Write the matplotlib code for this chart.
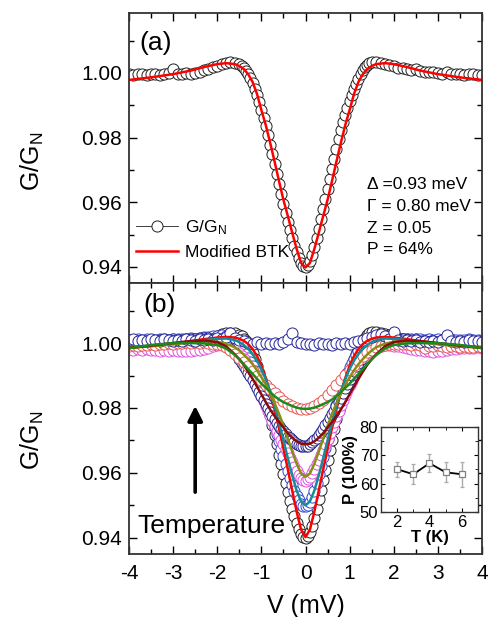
import numpy as np
import matplotlib
matplotlib.use("Agg")
import matplotlib.pyplot as plt
from matplotlib.ticker import MultipleLocator

plt.rcParams['font.family'] = 'Liberation Sans'
plt.rcParams['mathtext.fontset'] = 'custom'
plt.rcParams['mathtext.rm'] = 'Liberation Sans'
plt.rcParams['mathtext.default'] = 'regular'

# bias voltage (mV): 0.1 steps outside, 0.05 steps across the gap
V_dense = [-4.0, -3.9, -3.8, -3.7, -3.6, -3.5, -3.4, -3.3, -3.2, -3.1,
           -3.0, -2.9, -2.8, -2.7, -2.6, -2.5, -2.4, -2.3, -2.2, -2.1,
           -2.0, -1.9, -1.8, -1.7, -1.6,
           -1.5, -1.45, -1.4, -1.35, -1.3, -1.25, -1.2, -1.15, -1.1, -1.05,
           -1.0, -0.95, -0.9, -0.85, -0.8, -0.75, -0.7, -0.65, -0.6, -0.55,
           -0.5, -0.45, -0.4, -0.35, -0.3, -0.25, -0.2, -0.15, -0.1, -0.05,
           0.0,
           0.05, 0.1, 0.15, 0.2, 0.25, 0.3, 0.35, 0.4, 0.45, 0.5,
           0.55, 0.6, 0.65, 0.7, 0.75, 0.8, 0.85, 0.9, 0.95, 1.0,
           1.05, 1.1, 1.15, 1.2, 1.25, 1.3, 1.35, 1.4, 1.45, 1.5,
           1.6, 1.7, 1.8, 1.9, 2.0, 2.1, 2.2, 2.3, 2.4, 2.5,
           2.6, 2.7, 2.8, 2.9, 3.0, 3.1, 3.2, 3.3, 3.4, 3.5,
           3.6, 3.7, 3.8, 3.9, 4.0]

# measured G/GN, lowest temperature (panel a, black in b)
g_black = [0.9996, 0.9994, 0.9997, 0.9995, 0.9993, 0.9996, 0.9995, 0.9994, 0.9997, 0.9998,
           1.0012, 0.9996, 0.9995, 0.9998, 0.9997, 1.0000, 1.0004, 1.0008, 1.0012, 1.0018,
           1.0022, 1.0027, 1.0031, 1.0032, 1.0031,
           1.0026, 1.0021, 1.0014, 1.0006, 0.9995, 0.9983, 0.9968, 0.9950, 0.9930, 0.9909,
           0.9885, 0.9861, 0.9835, 0.9808, 0.9778, 0.9749, 0.9718, 0.9688, 0.9655, 0.9626,
           0.9595, 0.9568, 0.9540, 0.9514, 0.9490, 0.9466, 0.9445, 0.9426, 0.9412, 0.9403,
           0.9400,
           0.9406, 0.9418, 0.9437, 0.9462, 0.9489, 0.9518, 0.9548, 0.9578, 0.9609, 0.9640,
           0.9671, 0.9702, 0.9734, 0.9765, 0.9795, 0.9822, 0.9847, 0.9870, 0.9892, 0.9912,
           0.9932, 0.9950, 0.9967, 0.9982, 0.9996, 1.0008, 1.0017, 1.0025, 1.0030, 1.0033,
           1.0034, 1.0031, 1.0027, 1.0024, 1.0020, 1.0016, 1.0014, 1.0012, 1.0010, 1.0011,
           1.0007, 1.0004, 1.0003, 1.0002, 0.9999, 0.9997, 1.0004, 0.9996, 0.9995, 0.9997,
           0.9994, 0.9996, 0.9995, 0.9994, 0.9993]
g_blue = [1.0010, 1.0008, 1.0011, 1.0009, 1.0012, 1.0010, 1.0008, 1.0011, 1.0013, 1.0010,
          1.0012, 1.0014, 1.0011, 1.0013, 1.0015, 1.0013, 1.0016, 1.0018, 1.0019, 1.0021,
          1.0023, 1.0024, 1.0022, 1.0018, 1.0008,
          0.9995, 0.9987, 0.9978, 0.9967, 0.9955, 0.9942, 0.9928, 0.9913, 0.9897, 0.9880,
          0.9862, 0.9844, 0.9825, 0.9805, 0.9785, 0.9764, 0.9742, 0.9720, 0.9698, 0.9675,
          0.9652, 0.9628, 0.9605, 0.9583, 0.9562, 0.9544, 0.9528, 0.9515, 0.9505, 0.9499,
          0.9497,
          0.9502, 0.9510, 0.9526, 0.9545, 0.9569, 0.9595, 0.9622, 0.9650, 0.9678, 0.9705,
          0.9732, 0.9758, 0.9784, 0.9808, 0.9831, 0.9852, 0.9872, 0.9890, 0.9908, 0.9925,
          0.9939, 0.9952, 0.9964, 0.9975, 0.9984, 0.9992, 0.9999, 1.0005, 1.0010, 1.0014,
          1.0019, 1.0021, 1.0020, 1.0018, 1.0016, 1.0015, 1.0013, 1.0014, 1.0012, 1.0011,
          1.0013, 1.0010, 1.0011, 1.0009, 1.0012, 1.0010, 1.0008, 1.0011, 1.0009, 1.0010,
          1.0008, 1.0011, 1.0009, 1.0010, 1.0008]
g_magenta = [0.9982, 0.9980, 0.9983, 0.9979, 0.9981, 0.9978, 0.9980, 0.9977, 0.9979, 0.9976,
             0.9978, 0.9975, 0.9977, 0.9974, 0.9976, 0.9978, 0.9980, 0.9983, 0.9986, 0.9990,
             0.9993, 0.9996, 0.9997, 0.9994, 0.9985,
             0.9970, 0.9961, 0.9950, 0.9938, 0.9925, 0.9912, 0.9898, 0.9884, 0.9868, 0.9852,
             0.9836, 0.9820, 0.9805, 0.9790, 0.9775, 0.9760, 0.9745, 0.9730, 0.9716, 0.9702,
             0.9688, 0.9674, 0.9660, 0.9646, 0.9632, 0.9618, 0.9605, 0.9594, 0.9585, 0.9579,
             0.9576,
             0.9580, 0.9588, 0.9599, 0.9612, 0.9626, 0.9640, 0.9656, 0.9672, 0.9688, 0.9705,
             0.9722, 0.9740, 0.9758, 0.9775, 0.9792, 0.9808, 0.9824, 0.9840, 0.9855, 0.9870,
             0.9884, 0.9898, 0.9910, 0.9922, 0.9934, 0.9945, 0.9954, 0.9962, 0.9969, 0.9975,
             0.9984, 0.9990, 0.9993, 0.9994, 0.9992, 0.9990, 0.9987, 0.9985, 0.9982, 0.9980,
             0.9978, 0.9976, 0.9974, 0.9973, 0.9975, 0.9977, 0.9979, 0.9981, 0.9983, 0.9985,
             0.9984, 0.9986, 0.9985, 0.9987, 0.9986]
g_navy = [1.0005, 1.0002, 1.0006, 1.0003, 1.0007, 1.0004, 1.0006, 1.0008, 1.0005, 1.0009,
          1.0007, 1.0010, 1.0008, 1.0011, 1.0013, 1.0012, 1.0015, 1.0017, 1.0016, 1.0014,
          1.0010, 1.0003, 0.9994, 0.9982, 0.9968,
          0.9950, 0.9940, 0.9930, 0.9919, 0.9908, 0.9897, 0.9885, 0.9874, 0.9862, 0.9850,
          0.9838, 0.9825, 0.9812, 0.9800, 0.9788, 0.9776, 0.9765, 0.9755, 0.9745, 0.9736,
          0.9728, 0.9720, 0.9712, 0.9706, 0.9700, 0.9695, 0.9690, 0.9687, 0.9684, 0.9683,
          0.9682,
          0.9684, 0.9688, 0.9694, 0.9700, 0.9708, 0.9716, 0.9725, 0.9735, 0.9746, 0.9757,
          0.9768, 0.9780, 0.9792, 0.9805, 0.9818, 0.9832, 0.9846, 0.9860, 0.9874, 0.9888,
          0.9902, 0.9915, 0.9928, 0.9940, 0.9951, 0.9962, 0.9971, 0.9980, 0.9988, 0.9995,
          1.0007, 1.0016, 1.0020, 1.0019, 1.0016, 1.0013, 1.0011, 1.0009, 1.0008, 1.0006,
          1.0005, 1.0006, 1.0004, 1.0005, 1.0003, 1.0004, 1.0002, 1.0004, 1.0001, 1.0003,
          1.0000, 1.0002, 0.9999, 1.0001, 0.9998]

# shallow / flat curves on a plain 0.1 mV grid
V = [-4.0, -3.9, -3.8, -3.7, -3.6, -3.5, -3.4, -3.3, -3.2, -3.1,
     -3.0, -2.9, -2.8, -2.7, -2.6, -2.5, -2.4, -2.3, -2.2, -2.1,
     -2.0, -1.9, -1.8, -1.7, -1.6, -1.5, -1.4, -1.3, -1.2, -1.1,
     -1.0, -0.9, -0.8, -0.7, -0.6, -0.5, -0.4, -0.3, -0.2, -0.1,
     0.0, 0.1, 0.2, 0.3, 0.4, 0.5, 0.6, 0.7, 0.8, 0.9,
     1.0, 1.1, 1.2, 1.3, 1.4, 1.5, 1.6, 1.7, 1.8, 1.9,
     2.0, 2.1, 2.2, 2.3, 2.4, 2.5, 2.6, 2.7, 2.8, 2.9,
     3.0, 3.1, 3.2, 3.3, 3.4, 3.5, 3.6, 3.7, 3.8, 3.9,
     4.0]
g_red = [0.9990, 0.9993, 0.9991, 0.9995, 0.9993, 0.9997, 0.9995, 0.9998, 0.9996, 1.0000,
         0.9998, 1.0001, 0.9999, 1.0002, 1.0000, 1.0003, 1.0001, 1.0002, 0.9999, 0.9998,
         0.9997, 0.9993, 0.9987, 0.9978, 0.9967, 0.9955, 0.9942, 0.9928, 0.9914, 0.9900,
         0.9886, 0.9872, 0.9858, 0.9845, 0.9833, 0.9822, 0.9813, 0.9806, 0.9801, 0.9798,
         0.9798, 0.9801, 0.9807, 0.9815, 0.9826, 0.9839, 0.9854, 0.9870, 0.9886, 0.9902,
         0.9918, 0.9933, 0.9947, 0.9960, 0.9971, 0.9980, 0.9987, 0.9992, 0.9995, 0.9998,
         0.9997, 0.9998, 0.9996, 0.9997, 0.9995, 0.9996, 0.9994, 0.9985, 0.9992, 0.9990,
         0.9993, 0.9991, 0.9989, 0.9992, 0.9990, 0.9988, 0.9991, 0.9989, 0.9987, 0.9990,
         0.9988]
g_flat = [1.0008, 1.0011, 1.0006, 1.0010, 1.0007, 1.0012, 1.0009, 1.0006, 1.0011, 1.0008,
          1.0005, 1.0010, 1.0007, 1.0012, 1.0009, 1.0006, 1.0011, 1.0008, 1.0013, 1.0010,
          1.0015, 1.0012, 1.0018, 1.0032, 1.0016, 1.0010, 1.0005, 1.0001, 0.9998, 1.0002,
          0.9997, 0.9999, 0.9996, 1.0001, 0.9998, 1.0003, 1.0012, 1.0030, 1.0004, 0.9999,
          0.9996, 0.9998, 0.9995, 0.9999, 0.9996, 0.9998, 0.9995, 0.9999, 0.9997, 1.0000,
          0.9998, 1.0002, 1.0006, 1.0010, 1.0015, 1.0020, 1.0024, 1.0027, 1.0022, 1.0012,
          1.0035, 1.0010, 1.0006, 1.0009, 1.0005, 1.0008, 1.0004, 1.0007, 1.0003, 1.0006,
          1.0004, 1.0008, 1.0025, 1.0006, 1.0003, 1.0007, 1.0004, 1.0008, 1.0005, 1.0007,
          1.0004]

# modified BTK fits
V_fit = [-4.0, -3.5, -3.0, -2.6, -2.3, -2.0, -1.8, -1.6, -1.5, -1.4, -1.3, -1.2, -1.1,
         -1.0, -0.9, -0.8, -0.7, -0.6, -0.5, -0.4, -0.3, -0.2, -0.1, 0.0,
         0.1, 0.2, 0.3, 0.4, 0.5, 0.6, 0.7, 0.8, 0.9, 1.0,
         1.1, 1.2, 1.3, 1.4, 1.5, 1.6, 1.8, 2.0, 2.3, 2.6, 3.0, 3.5, 4.0]
fit_a = [0.9978, 0.9986, 0.9996, 1.0007, 1.0018, 1.0027, 1.0030, 1.0027, 1.0021, 1.0012, 0.9996, 0.9972, 0.9935,
         0.9885, 0.9838, 0.9783, 0.9725, 0.9665, 0.9607, 0.9557, 0.9505, 0.9455, 0.9412, 0.9398,
         0.9412, 0.9455, 0.9505, 0.9557, 0.9607, 0.9665, 0.9725, 0.9783, 0.9838, 0.9885,
         0.9935, 0.9972, 0.9996, 1.0012, 1.0021, 1.0027, 1.0030, 1.0027, 1.0018, 1.0007, 0.9996, 0.9986, 0.9978]
fit_red = [0.9986, 0.9992, 0.9999, 1.0006, 1.0012, 1.0017, 1.0019, 1.0017, 1.0013, 1.0007, 0.9997, 0.9982, 0.9960,
           0.9930, 0.9892, 0.9848, 0.9795, 0.9738, 0.9675, 0.9610, 0.9545, 0.9480, 0.9425, 0.9402,
           0.9425, 0.9480, 0.9545, 0.9610, 0.9675, 0.9738, 0.9795, 0.9848, 0.9892, 0.9930,
           0.9960, 0.9982, 0.9997, 1.0007, 1.0013, 1.0017, 1.0019, 1.0017, 1.0012, 1.0006, 0.9999, 0.9992, 0.9986]
fit_teal = [0.9988, 0.9992, 0.9998, 1.0004, 1.0009, 1.0013, 1.0014, 1.0009, 1.0003, 0.9994, 0.9982, 0.9966, 0.9946,
            0.9920, 0.9888, 0.9850, 0.9805, 0.9755, 0.9700, 0.9645, 0.9592, 0.9545, 0.9512, 0.9500,
            0.9512, 0.9545, 0.9592, 0.9645, 0.9700, 0.9755, 0.9805, 0.9850, 0.9888, 0.9920,
            0.9946, 0.9966, 0.9982, 0.9994, 1.0003, 1.0009, 1.0014, 1.0013, 1.0009, 1.0004, 0.9998, 0.9992, 0.9988]
fit_olive = [0.9985, 0.9990, 0.9996, 1.0002, 1.0005, 1.0004, 0.9998, 0.9987, 0.9977, 0.9965, 0.9951, 0.9935, 0.9916,
             0.9895, 0.9872, 0.9845, 0.9815, 0.9782, 0.9745, 0.9705, 0.9665, 0.9628, 0.9598, 0.9588,
             0.9598, 0.9628, 0.9665, 0.9705, 0.9745, 0.9782, 0.9815, 0.9845, 0.9872, 0.9895,
             0.9916, 0.9935, 0.9951, 0.9965, 0.9977, 0.9987, 0.9998, 1.0004, 1.0005, 1.0002, 0.9996, 0.9990, 0.9985]
fit_maroon = [0.9985, 0.9992, 1.0000, 1.0006, 1.0008, 1.0003, 0.9990, 0.9965, 0.9950, 0.9933, 0.9912, 0.9890, 0.9866,
              0.9842, 0.9818, 0.9795, 0.9775, 0.9757, 0.9740, 0.9722, 0.9708, 0.9697, 0.9690, 0.9688,
              0.9690, 0.9697, 0.9708, 0.9722, 0.9740, 0.9757, 0.9775, 0.9795, 0.9818, 0.9842,
              0.9866, 0.9890, 0.9912, 0.9933, 0.9950, 0.9965, 0.9990, 1.0003, 1.0008, 1.0006, 1.0000, 0.9992, 0.9985]
fit_green = [0.9984, 0.9994, 1.0000, 1.0000, 0.9999, 0.9994, 0.9983, 0.9963, 0.9950, 0.9935, 0.9920, 0.9905, 0.9890,
             0.9875, 0.9862, 0.9849, 0.9836, 0.9826, 0.9818, 0.9812, 0.9806, 0.9801, 0.9798, 0.9797,
             0.9798, 0.9801, 0.9806, 0.9812, 0.9818, 0.9826, 0.9836, 0.9849, 0.9862, 0.9875,
             0.9890, 0.9905, 0.9920, 0.9935, 0.9950, 0.9963, 0.9983, 0.9994, 0.9999, 1.0000, 1.0000, 0.9994, 0.9984]

# inset: spin polarization vs temperature
T_ins = [2, 3, 4, 5, 6]
P_ins = [65.1, 63.3, 67.2, 64.0, 63.3]
P_err = [2.6, 3.5, 3.2, 3.5, 4.4]

fit_text = ["\u0394 =0.93 meV", "\u0393 = 0.80 meV", "Z = 0.05", "P = 64%"]


def style_axis(ax, label_y):
    ax.set_xlim(-4, 4)
    ax.set_ylim(0.935, 1.0185)
    ax.xaxis.set_major_locator(MultipleLocator(1))
    ax.xaxis.set_minor_locator(MultipleLocator(0.5))
    ax.yaxis.set_major_locator(MultipleLocator(0.02))
    ax.yaxis.set_minor_locator(MultipleLocator(0.01))
    ax.tick_params(which='both', direction='in', top=True, right=True, width=1.0)
    ax.tick_params(which='major', length=6, labelsize=15, pad=5)
    ax.tick_params(which='minor', length=3.5)
    ax.tick_params(axis='x', which='major', pad=7)
    for s in ax.spines.values():
        s.set_linewidth(1.3)
        s.set_color('#333333')
    ax.yaxis.set_major_formatter(plt.FormatStrFormatter('%.2f'))
    ax.set_ylabel('G/G$_N$', fontsize=18)
    ax.yaxis.set_label_coords(-0.235, label_y)


fig = plt.figure(figsize=(4.89, 6.17), dpi=100)
ax1 = fig.add_axes([0.2638, 0.5413, 0.7219, 0.4376])
ax2 = fig.add_axes([0.2638, 0.1021, 0.7219, 0.4392])

mk = dict(marker='o', ms=8, mfc='white', mew=0.7)

# panel (a)
ax1.plot(V_dense, g_black, color='#202020', lw=0.6, label='G/G$_N$', **mk)
ax1.plot(V_fit, fit_a, color='red', lw=1.8, label='Modified BTK')
style_axis(ax1, 0.45)
ax1.tick_params(labelbottom=False)
ax1.text(0.03, 0.89, '(a)', transform=ax1.transAxes, fontsize=19, va='center')
ax1.legend(loc='lower left', bbox_to_anchor=(0.0, 0.06), frameon=False, fontsize=12.5,
           handlelength=2.4, handletextpad=0.4, labelspacing=0.45, borderaxespad=0)
for i, s in enumerate(fit_text):
    ax1.text(1.4, 0.9654 - i * 0.0067, s, fontsize=12.5, va='center')

# panel (b)
ax2.plot(V_dense, g_black, ls='none', mec='#202020', **mk)
ax2.plot(V_dense, g_blue, ls='none', mec='#3344cc', **mk)
ax2.plot(V_dense, g_magenta, ls='none', mec='#e050e0', **mk)
ax2.plot(V_dense, g_navy, ls='none', mec='#22228a', **mk)
ax2.plot(V, g_red, ls='none', mec='#e85555', **mk)
ax2.plot(V, g_flat, ls='none', mec='#262698', **mk)
ax2.plot(V_fit, fit_red, color='#ff0000', lw=1.8)
ax2.plot(V_fit, fit_teal, color='#178c99', lw=1.8)
ax2.plot(V_fit, fit_olive, color='#8c8c14', lw=1.8)
ax2.plot(V_fit, fit_maroon, color='#8b0a0a', lw=1.8)
ax2.plot(V_fit, fit_green, color='#1a8a1a', lw=1.8)
style_axis(ax2, 0.42)
ax2.set_xticks([-4, -3, -2, -1, 0, 1, 2, 3, 4])
ax2.set_xticklabels(['-4', '-3', '-2', '-1', '0', '1', '2', '3', '4'])
ax2.set_xlabel('V (mV)', fontsize=18, labelpad=8)
ax2.text(0.04, 0.919, '(b)', transform=ax2.transAxes, fontsize=19, va='center')
ax2.annotate('', xy=(-2.5, 0.9815), xytext=(-2.5, 0.9532),
             arrowprops=dict(arrowstyle='-|>', lw=2.6, color='black', mutation_scale=22))
ax2.text(-3.82, 0.9435, 'Temperature', fontsize=19, va='center', ha='left')

# inset
ins = fig.add_axes([0.7791, 0.1702, 0.1984, 0.1378])
ins.errorbar(T_ins, P_ins, yerr=P_err, fmt='s-', color='black', lw=1.3, ms=5,
             mfc='white', mec='#808080', mew=0.9, ecolor='#aaaaaa', elinewidth=1.0, capsize=1.5)
ins.set_xlim(1, 7)
ins.set_ylim(50, 80)
ins.xaxis.set_major_locator(MultipleLocator(2))
ins.xaxis.set_minor_locator(MultipleLocator(1))
ins.yaxis.set_major_locator(MultipleLocator(10))
ins.yaxis.set_minor_locator(MultipleLocator(5))
ins.tick_params(which='both', direction='in', top=True, right=True, labelsize=12, pad=2)
ins.tick_params(which='major', length=3)
ins.tick_params(which='minor', length=2)
for s in ins.spines.values():
    s.set_linewidth(1.0)
    s.set_color('#333333')
ins.set_xlabel('T (K)', fontsize=12, fontweight='bold', labelpad=0)
ins.set_ylabel('P (100%)', fontsize=12, fontweight='bold', labelpad=1)

fig.savefig('out.png', dpi=100)
